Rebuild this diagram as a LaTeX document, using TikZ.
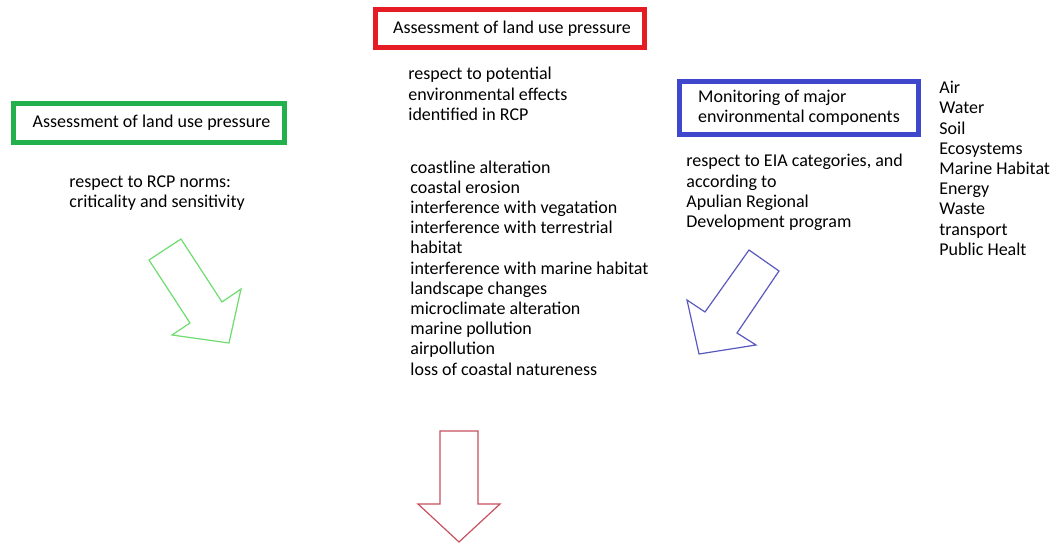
\documentclass[tikz,border=0pt]{standalone}
\usepackage{fontspec}
\setmainfont{Carlito}
\usepackage{xcolor}
\usepackage{tikz}
\definecolor{boxgreen}{RGB}{34,177,76}
\definecolor{boxred}{RGB}{230,28,36}
\definecolor{boxblue}{RGB}{63,72,204}
\definecolor{arrowgreen}{RGB}{110,220,110}
\definecolor{arrowred}{RGB}{200,80,95}
\definecolor{arrowblue}{RGB}{90,90,190}

\begin{document}
\begin{tikzpicture}[x=0.5pt,y=-0.5pt,
    every node/.style={font=\fontsize{9pt}{10.1pt}\selectfont, inner sep=0pt},
    box/.style={draw, line width=2.5pt, fill=white},
    txt/.style={anchor=west, align=left},
    blockarrow/.style={line width=0.6pt, line join=miter, fill=white}]
    \useasboundingbox (0,0) rectangle (1056,545);

    % Pression : normes RCP
    \node[box, draw=boxgreen, minimum width=135.5pt, minimum height=19.5pt] (normbox) at (149,123) {\hspace{2.5pt}Assessment of land use pressure};
    \node[txt] (normtext) at (69,193) {respect to RCP norms:\\criticality and sensitivity};
    \draw[blockarrow, draw=arrowgreen] (149,260) -- (181,239) -- (222,302) -- (241,289) -- (229,343) -- (172,335) -- (190,323) -- cycle;

    % Pression : effets potentiels
    \node[box, draw=boxred, minimum width=134.5pt, minimum height=19pt] (effectbox) at (510,28.5) {\hspace{2pt}Assessment of land use pressure};
    \node[txt] (effecttext) at (408,94) {respect to potential\\environmental effects\\identified in RCP};
    \node[txt] (effectlist) at (410,268) {coastline alteration\\coastal erosion\\interference with vegatation\\interference with terrestrial\\habitat\\interference with marine habitat\\landscape changes\\microclimate alteration\\marine pollution\\airpollution\\loss of coastal natureness};
    \draw[blockarrow, draw=arrowred] (440,431) -- (478,431) -- (478,504) -- (500,504) -- (459,542) -- (418,504) -- (440,504) -- cycle;

    % Suivi des composantes
    \node[box, draw=boxblue, minimum width=119.5pt, minimum height=26.5pt, align=left] (monitorbox) at (799,108) {Monitoring of major\\environmental components};
    \node[txt] (monitortext) at (686,192.5) {respect to EIA categories, and\\according to\\Apulian Regional\\Development program};
    \node[txt] (components) at (939,168.3) {Air\\Water\\Soil\\Ecosystems\\Marine Habitat\\Energy\\Waste\\transport\\Public Healt};
    \draw[blockarrow, draw=arrowblue] (749,250) -- (779,271) -- (737,333) -- (756,345) -- (699,354) -- (687,300) -- (705,312) -- cycle;
\end{tikzpicture}
\end{document}
